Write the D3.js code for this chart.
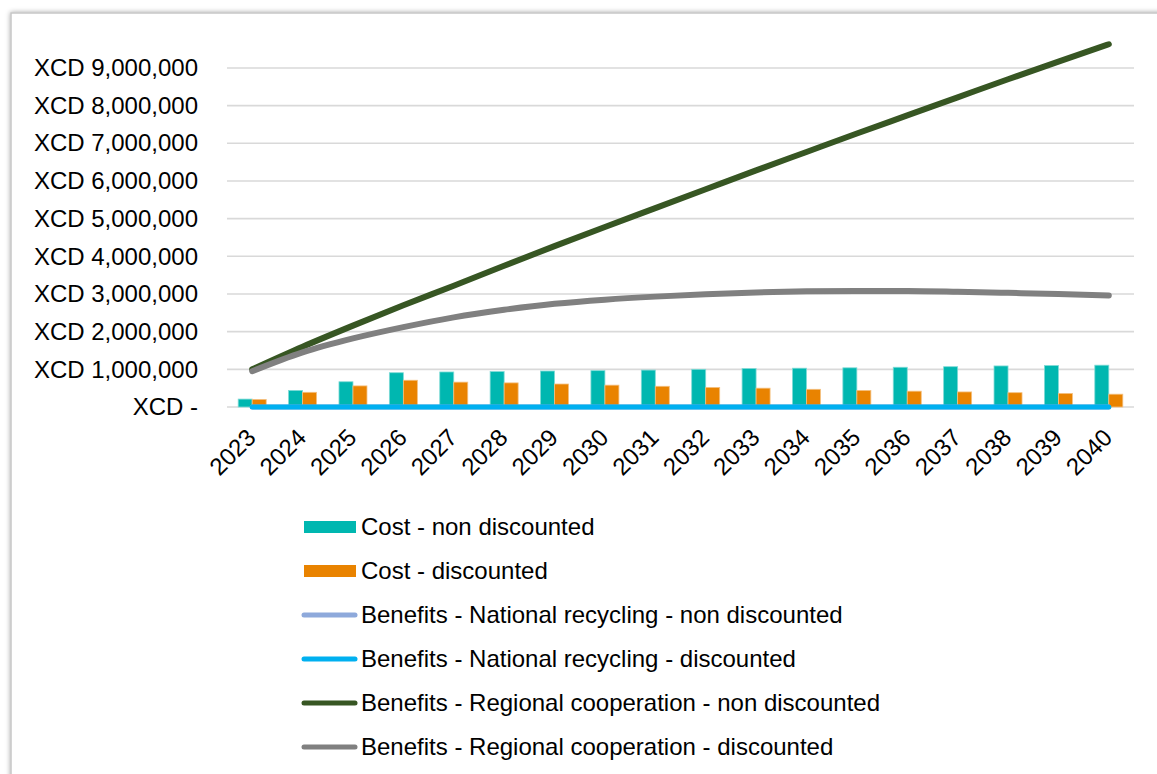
<!DOCTYPE html>
<html>
<head>
<meta charset="utf-8">
<script src="https://cdn.jsdelivr.net/npm/d3@7"></script>
<style>
  html, body { margin: 0; padding: 0; background: #fff; }
  svg { display: block; font-family: "Liberation Sans", Arial, sans-serif; }
</style>
</head>
<body>
<svg id="chart" width="1157" height="774"></svg>
<script>
const years = ["2023","2024","2025","2026","2027","2028","2029","2030","2031","2032","2033","2034","2035","2036","2037","2038","2039","2040"];
const costNonDiscounted = [210000,440000,670000,910000,930000,940000,955000,965000,980000,1000000,1020000,1030000,1040000,1055000,1070000,1090000,1100000,1110000];
const costDiscounted = [200000,390000,560000,710000,660000,640000,610000,580000,550000,520000,500000,470000,440000,420000,400000,380000,360000,340000];
const natRecyclingNonDisc = [0,0,0,0,0,0,0,0,0,0,0,0,0,0,0,0,0,0];
const natRecyclingDisc = [0,0,0,0,0,0,0,0,0,0,0,0,0,0,0,0,0,0];
const regCoopNonDisc = [1000000,1600000,2160000,2700000,3220000,3750000,4270000,4780000,5280000,5780000,6280000,6770000,7260000,7740000,8220000,8700000,9170000,9630000];
const regCoopDisc = [950000,1450000,1820000,2120000,2380000,2580000,2740000,2850000,2930000,2990000,3040000,3070000,3080000,3080000,3060000,3030000,3000000,2960000];
const yTicks = [0,1000000,2000000,3000000,4000000,5000000,6000000,7000000,8000000,9000000];
const legendLabels = ["Cost - non discounted","Cost - discounted","Benefits - National recycling - non discounted","Benefits - National recycling - discounted","Benefits - Regional cooperation - non discounted","Benefits - Regional cooperation - discounted"];

const colors = {
  teal: "#00B7B0",
  orange: "#E98300",
  lightBlue: "#8EA9DB",
  blue: "#00B0F0",
  green: "#375623",
  gray: "#808080"
};

const FS = "24px";
const svg = d3.select("#chart");

// frame with soft shadow
const defs = svg.append("defs");
const f = defs.append("filter").attr("id","sh").attr("x","-5%").attr("y","-5%").attr("width","110%").attr("height","110%");
f.append("feDropShadow").attr("dx",0).attr("dy",0).attr("stdDeviation",2.5).attr("flood-color","#000").attr("flood-opacity",0.35);
svg.append("rect").attr("x",11).attr("y",13).attr("width",1200).attr("height",800)
  .attr("fill","#fff").attr("stroke","#c6c6c6").attr("stroke-width",1.5).attr("filter","url(#sh)");

const x = d3.scaleBand().domain(years).range([227, 1134]).padding(0);
const y = d3.scaleLinear().domain([0, 10000000]).range([407, 30.3]);

// gridlines
svg.append("g").selectAll("line").data(yTicks).join("line")
  .attr("x1", 227).attr("x2", 1134)
  .attr("y1", d => y(d)).attr("y2", d => y(d))
  .attr("stroke", "#d9d9d9").attr("stroke-width", 1.6);

// y axis labels
const fmt = d3.format(",");
const yAxis = d3.axisLeft(y).tickValues(yTicks).tickSize(0).tickPadding(0)
  .tickFormat(d => d === 0 ? "XCD -" : "XCD " + fmt(d));
const gy = svg.append("g").attr("transform","translate(198,0)").call(yAxis);
gy.select(".domain").remove();
gy.selectAll("text").attr("font-size",FS).attr("fill","#000")
  .attr("font-family","'Liberation Sans', Arial, sans-serif");

// bars
const bw = 14;
svg.append("g").selectAll("rect").data(years).join("rect")
  .attr("x", d => x(d) + x.bandwidth()/2 - bw)
  .attr("width", bw)
  .attr("y", (d,i) => y(costNonDiscounted[i]))
  .attr("height", (d,i) => y(0) - y(costNonDiscounted[i]))
  .attr("fill", colors.teal).attr("stroke","#7fdad6").attr("stroke-width",0.8);
svg.append("g").selectAll("rect").data(years).join("rect")
  .attr("x", d => x(d) + x.bandwidth()/2)
  .attr("width", bw)
  .attr("y", (d,i) => y(costDiscounted[i]))
  .attr("height", (d,i) => y(0) - y(costDiscounted[i]))
  .attr("fill", colors.orange).attr("stroke","#f4c080").attr("stroke-width",0.8);

// lines
const line = d3.line().x((d,i) => x(years[i]) + x.bandwidth()/2).y(d => y(d)).curve(d3.curveMonotoneX);
const series = [
  {v: natRecyclingNonDisc, c: colors.lightBlue, w: 5},
  {v: natRecyclingDisc, c: colors.blue, w: 5},
  {v: regCoopNonDisc, c: colors.green, w: 6},
  {v: regCoopDisc, c: colors.gray, w: 6}
];
svg.append("g").selectAll("path").data(series).join("path")
  .attr("d", d => line(d.v))
  .attr("fill","none").attr("stroke", d => d.c).attr("stroke-width", d => d.w)
  .attr("stroke-linecap","round").attr("stroke-linejoin","round");

// x axis labels
const xAxis = d3.axisBottom(x).tickSize(0).tickPadding(0);
const gx = svg.append("g").call(xAxis);
gx.select(".domain").remove();
gx.selectAll(".tick").attr("transform", d => `translate(${x(d) + x.bandwidth()/2 + 5},439)`);
gx.selectAll("text").attr("font-size",FS).attr("fill","#000")
  .attr("font-family","'Liberation Sans', Arial, sans-serif")
  .attr("text-anchor","end").attr("dy",0).attr("y",0).attr("x",0)
  .attr("transform","rotate(-45)");

// legend
const legendRows = [
  {t: "rect", c: colors.teal},
  {t: "rect", c: colors.orange},
  {t: "line", c: colors.lightBlue},
  {t: "line", c: colors.blue},
  {t: "line", c: colors.green},
  {t: "line", c: colors.gray}
];
const lg = svg.append("g");
const rows = lg.selectAll("g").data(legendLabels).join("g")
  .attr("transform", (d,i) => `translate(0,${527 + i*44})`);
rows.each(function(d,i){
  const g = d3.select(this);
  const r = legendRows[i];
  if (r.t === "rect") {
    g.append("rect").attr("x",304).attr("y",-6).attr("width",52).attr("height",12).attr("fill",r.c);
  } else {
    g.append("line").attr("x1",304).attr("x2",355).attr("y1",0).attr("y2",0)
      .attr("stroke",r.c).attr("stroke-width",5).attr("stroke-linecap","round");
  }
  g.append("text").attr("x",361).attr("y",0).attr("dy","0.35em")
    .attr("font-size",FS).attr("fill","#000").text(d);
});
</script>
</body>
</html>
